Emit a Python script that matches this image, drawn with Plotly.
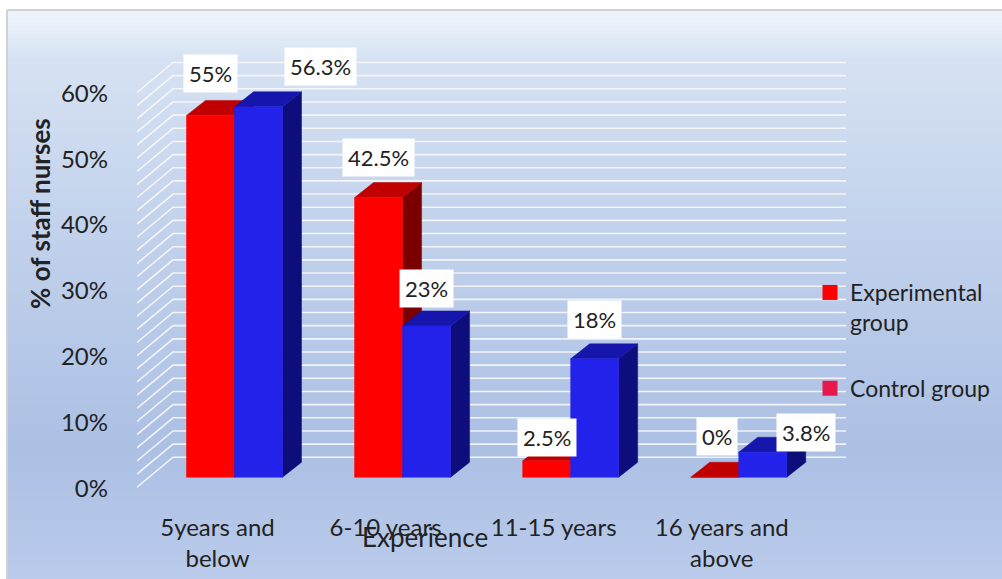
import plotly.graph_objects as go

# ---- data -------------------------------------------------------------
categories = ["5years and<br>below", "6-10 years", "11-15 years", "16 years and<br>above"]
experimental = [55, 42.5, 2.5, 0]
control = [56.3, 23, 18, 3.8]
experimental_labels = ["55%", "42.5%", "2.5%", "0%"]
control_labels = ["56.3%", "23%", "18%", "3.8%"]
y_ticks = [0, 10, 20, 30, 40, 50, 60]
y_tick_labels = ["0%", "10%", "20%", "30%", "40%", "50%", "60%"]

# ---- geometry ---------------------------------------------------------
FIG_W, FIG_H = 1002, 579
M_L, M_R, M_T, M_B = 137, 154, 43, 82
X_RANGE = [-0.58, 3.65]
Y_RANGE = [-3, 66]
plot_w = FIG_W - M_L - M_R
plot_h = FIG_H - M_T - M_B
sx = plot_w / (X_RANGE[1] - X_RANGE[0])   # px per category
sy = plot_h / (Y_RANGE[1] - Y_RANGE[0])   # px per percent

BAR_W = 48 / sx            # width of one bar in category units
DX, DY = 19 / sx, 15 / sy  # depth of each bar (3-D look)

RED, RED_TOP, RED_SIDE = "#ff0000", "#c00000", "#7a0000"
BLUE, BLUE_TOP, BLUE_SIDE = "#2222ea", "#1616ac", "#0d0d7c"
FONT = "Lato"
TXT = "#222222"

fig = go.Figure()

# ---- background gradient (figure area) --------------------------------
stops = [(10, (240, 245, 252)), (60, (214, 226, 243)), (250, (192, 208, 235)),
         (450, (172, 192, 228)), (579, (186, 203, 235))]


def grad(py):
    for (y0, c0), (y1, c1) in zip(stops[:-1], stops[1:]):
        if y0 <= py <= y1:
            t = (py - y0) / (y1 - y0)
            return "rgb(%d,%d,%d)" % tuple(round(a + (b - a) * t) for a, b in zip(c0, c1))
    return "rgb(%d,%d,%d)" % stops[-1][1]


def px_to_paper_x(px):
    return (px - M_L) / plot_w


def px_to_paper_y(py):
    return 1 - (py - M_T) / plot_h


shapes = []
step = 4
for py in range(10, FIG_H, step):
    shapes.append(dict(type="rect", xref="paper", yref="paper", layer="below",
                       x0=px_to_paper_x(8), x1=px_to_paper_x(FIG_W),
                       y0=px_to_paper_y(min(py + step + 1, FIG_H)), y1=px_to_paper_y(py),
                       fillcolor=grad(py + step / 2), line=dict(width=0)))
# frame lines on top/left
shapes.append(dict(type="line", xref="paper", yref="paper", layer="below",
                   x0=px_to_paper_x(7), x1=px_to_paper_x(FIG_W),
                   y0=px_to_paper_y(10), y1=px_to_paper_y(10),
                   line=dict(color="#d2d2d2", width=2)))
shapes.append(dict(type="line", xref="paper", yref="paper", layer="below",
                   x0=px_to_paper_x(7), x1=px_to_paper_x(7),
                   y0=px_to_paper_y(10), y1=px_to_paper_y(FIG_H),
                   line=dict(color="#d2d2d2", width=2)))

# ---- walls: gridlines every 2 % ---------------------------------------
wall_front_dy = -10 / sy      # floor front edge sits below bar fronts
wall_back_dy = 20 / sy        # back wall sits above bar fronts
wall_back_x = X_RANGE[0] + 36 / sx
wall_right_x = X_RANGE[0] + 709 / sx
gx, gy = [], []
for v in range(0, 61, 2):
    gx += [X_RANGE[0], wall_back_x, wall_right_x, None]
    gy += [v + wall_front_dy, v + wall_back_dy, v + wall_back_dy, None]
fig.add_trace(go.Scatter(x=gx, y=gy, mode="lines", hoverinfo="skip", showlegend=False,
                         line=dict(color="rgba(248,248,248,0.9)", width=1.6)))


# ---- 3-D bars ----------------------------------------------------------
def faces(values, offset):
    side_x, side_y, top_x, top_y, front_x, front_y = [], [], [], [], [], []
    for i, v in enumerate(values):
        xl = i + offset
        xr = xl + BAR_W
        front_x += [xl, xl, xr, xr, xl, None]
        front_y += [0, v, v, 0, 0, None]
        top_x += [xl, xl + DX, xr + DX, xr, xl, None]
        top_y += [v, v + DY, v + DY, v, v, None]
        side_x += [xr, xr + DX, xr + DX, xr, xr, None]
        side_y += [0, DY, v + DY, v, 0, None]
    return (side_x, side_y), (top_x, top_y), (front_x, front_y)


for values, offset, cols in [(experimental, -BAR_W, (RED_SIDE, RED_TOP, RED)),
                             (control, 0.0, (BLUE_SIDE, BLUE_TOP, BLUE))]:
    for (fx, fy), col in zip(faces(values, offset), cols):
        fig.add_trace(go.Scatter(x=fx, y=fy, mode="lines", fill="toself", fillcolor=col,
                                 line=dict(width=0.5, color=col), hoverinfo="skip",
                                 showlegend=False))

# ---- legend keys -------------------------------------------------------
fig.add_trace(go.Scatter(x=[None], y=[None], mode="markers", name="Experimental<br>group",
                         legendgroup="exp",
                         marker=dict(symbol="square", size=15, color="#ff0000")))
fig.add_trace(go.Scatter(x=[None], y=[None], mode="markers", name="Control group",
                         legendgroup="ctl",
                         marker=dict(symbol="square", size=15, color="#e8174e")))

# ---- data labels -------------------------------------------------------
annotations = []
exp_shift = [(0, 22), (0, 21), (0, 4), (2, 21)]
ctl_shift = [(62, 21), (0, 18), (0, 20), (43, 0)]
for i in range(len(categories)):
    for val, lab, off, (xs, ys) in [(experimental[i], experimental_labels[i], -BAR_W / 2, exp_shift[i]),
                                    (control[i], control_labels[i], BAR_W / 2, ctl_shift[i])]:
        annotations.append(dict(x=i + off, y=val, xref="x", yref="y", text=lab,
                                showarrow=False, xanchor="center", yanchor="bottom",
                                xshift=xs, yshift=ys, bgcolor="white", borderpad=5,
                                font=dict(family=FONT, size=22, color=TXT)))

annotations.append(dict(text="Experience", xref="paper", yref="paper",
                        x=px_to_paper_x(425), y=px_to_paper_y(537),
                        xanchor="center", yanchor="middle", showarrow=False,
                        font=dict(family=FONT, size=26, color=TXT)))
annotations.append(dict(text="<b>% of staff nurses</b>", xref="paper", yref="paper",
                        x=px_to_paper_x(40), y=px_to_paper_y(214), textangle=-90,
                        xanchor="center", yanchor="middle", showarrow=False,
                        font=dict(family=FONT, size=26, color=TXT)))

fig.update_layout(
    width=FIG_W, height=FIG_H,
    margin=dict(l=M_L, r=M_R, t=M_T, b=M_B, autoexpand=False),
    paper_bgcolor="white", plot_bgcolor="rgba(0,0,0,0)",
    shapes=shapes, annotations=annotations,
    xaxis=dict(range=X_RANGE, tickmode="array", tickvals=list(range(len(categories))),
               ticktext=categories, showgrid=False, zeroline=False, showline=False,
               ticks="", ticklabelshift=-17, ticklabelstandoff=14,
               tickfont=dict(family=FONT, size=24, color=TXT), fixedrange=True),
    yaxis=dict(range=Y_RANGE, tickmode="array", tickvals=y_ticks, ticktext=y_tick_labels,
               showgrid=False, zeroline=False, showline=False, ticks="",
               ticklabelshift=11, ticklabelstandoff=28,
               tickfont=dict(family=FONT, size=24, color=TXT), fixedrange=True),
    legend=dict(xref="container", yref="container", x=810 / FIG_W, y=1 - 271 / FIG_H,
                xanchor="left", yanchor="top", bgcolor="rgba(0,0,0,0)",
                font=dict(family=FONT, size=23, color=TXT), valign="top",
                traceorder="grouped", tracegroupgap=33, itemwidth=30),
    showlegend=True,
)

fig.write_html("out.html")
